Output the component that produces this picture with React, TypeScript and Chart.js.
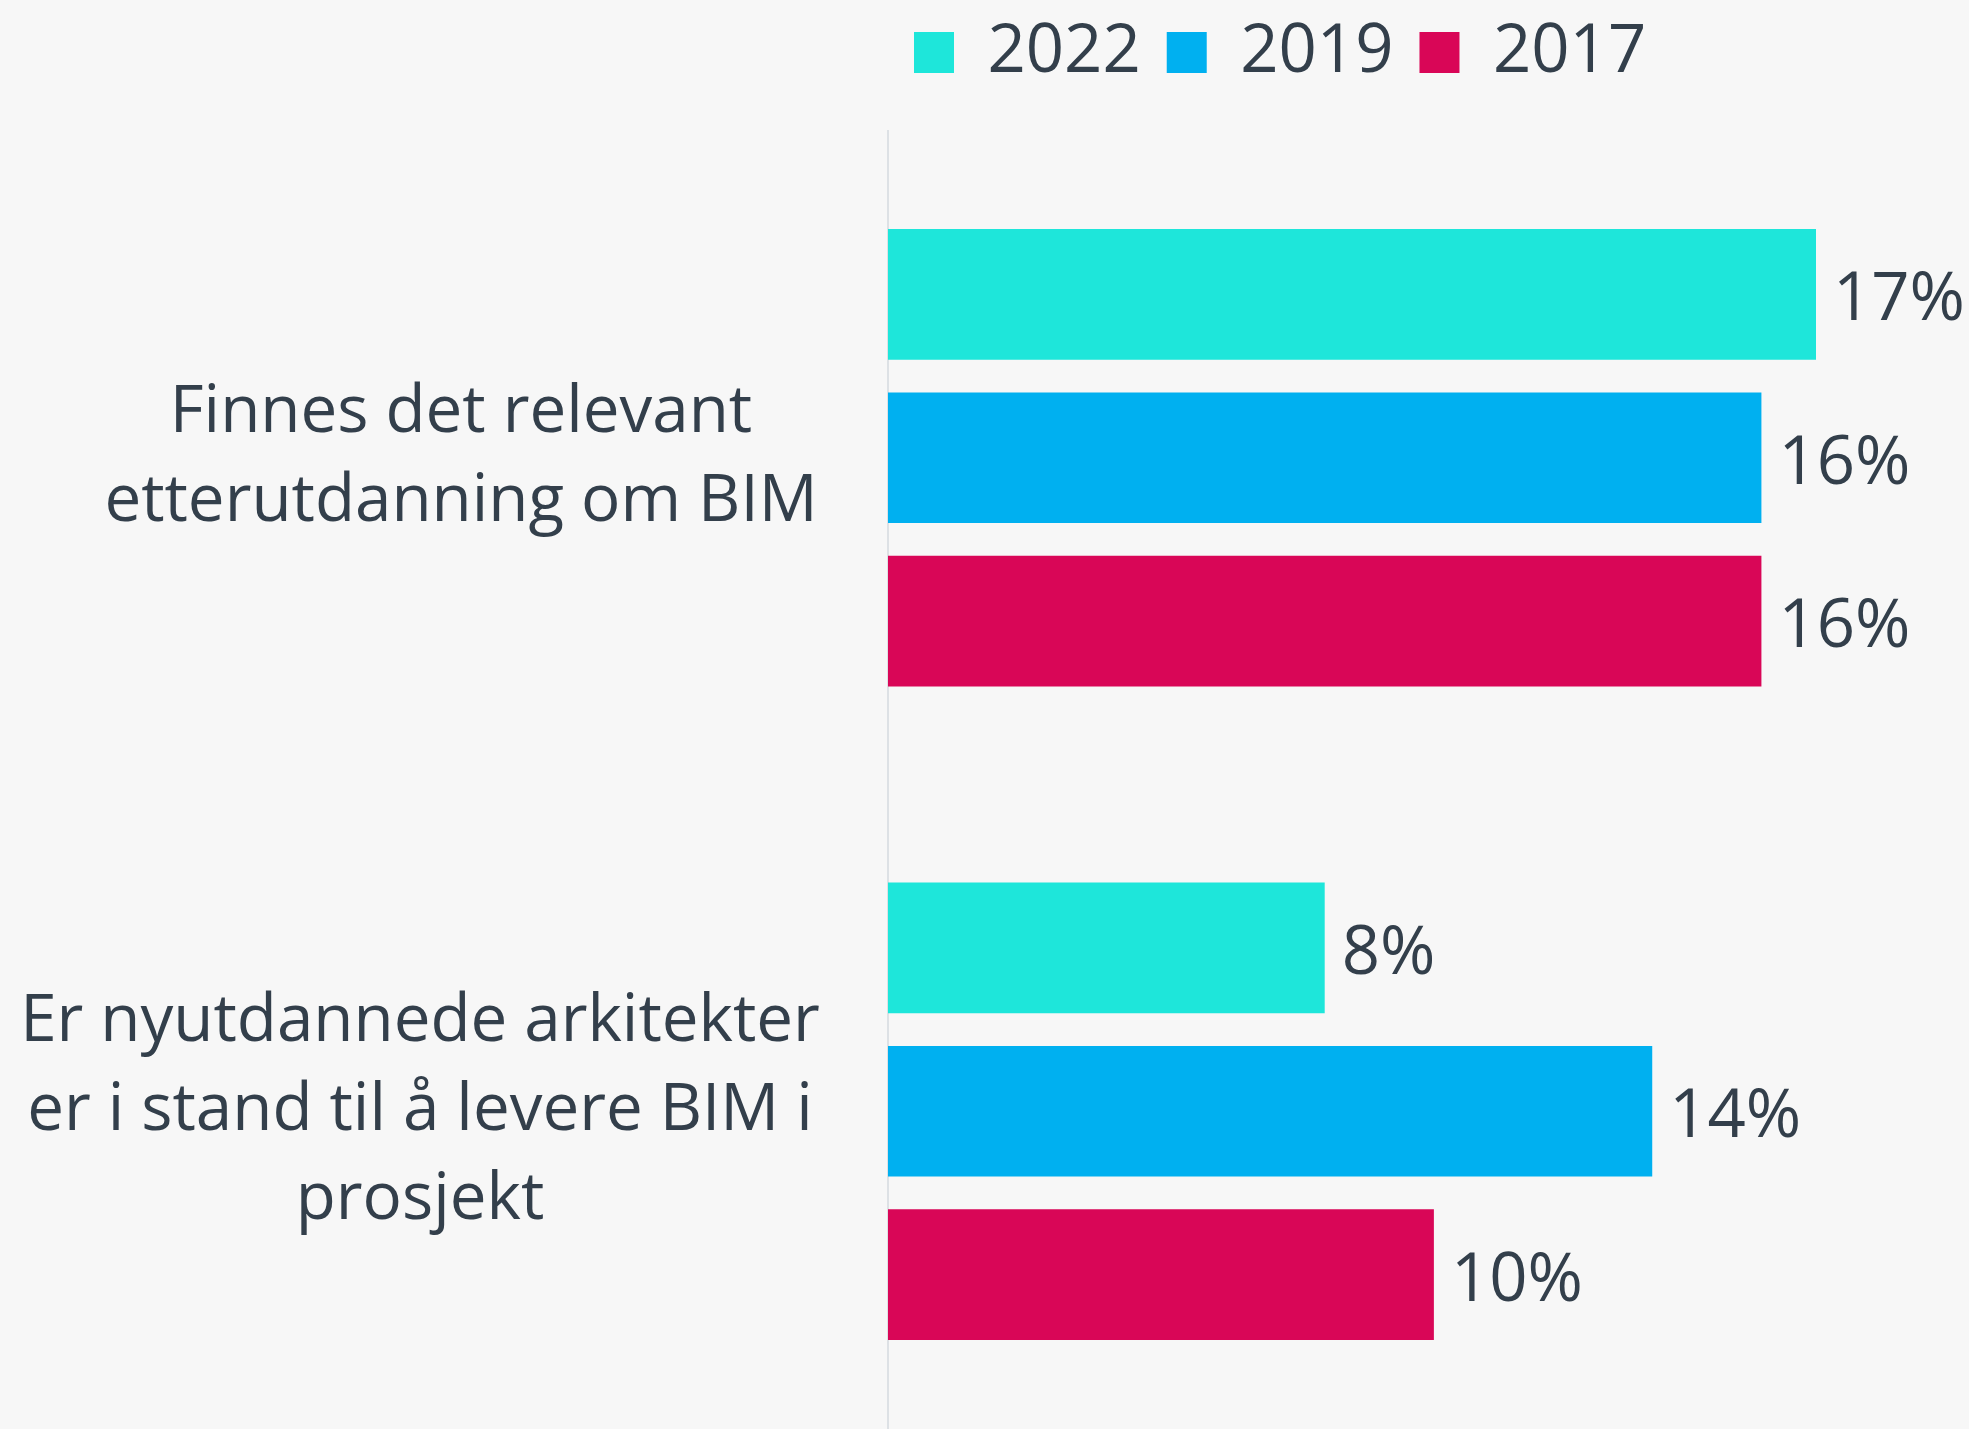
import { useEffect, useRef } from 'react';
import { Chart, registerables } from 'chart.js';

Chart.register(...registerables);

const categories: string[][] = [
  ['Finnes det relevant', 'etterutdanning om BIM'],
  ['Er nyutdannede arkitekter', 'er i stand til å levere BIM i', 'prosjekt'],
];
const seriesLabels = ['2022', '2019', '2017'];
const values2022 = [17, 8];
const values2019 = [16, 14];
const values2017 = [16, 10];
const seriesColors = ['#1EE6DA', '#00B0F0', '#D90657'];

const FONT = "'Open Sans', sans-serif";
const TEXT = '#333F4B';
const SIZE = 67;
const CAT_SIZE = 65.5;
const LINE_H = 89;
const LABEL_CENTERS = [461, 420];
const W = 1969;
const H = 1438;

const legendSpacing = {
  id: 'legendSpacing',
  beforeInit(chart: any) {
    const legend = chart.legend;
    if (!legend) return;
    const orig = legend.fit;
    legend.fit = function () {
      orig.call(this);
      this.height += 35;
    };
  },
};

const labelsPlugin = {
  id: 'customLabels',
  afterDatasetsDraw(chart: any) {
    const ctx = chart.ctx;
    ctx.save();
    ctx.font = `${SIZE}px ${FONT}`;
    ctx.fillStyle = TEXT;
    ctx.textBaseline = 'alphabetic';
    ctx.textAlign = 'left';
    chart.data.datasets.forEach((ds: any, i: number) => {
      const meta = chart.getDatasetMeta(i);
      meta.data.forEach((el: any, j: number) => {
        ctx.fillText(`${ds.data[j]}%`, el.x + 17, el.y + 26);
      });
    });
    const yScale = chart.scales.y;
    ctx.font = `${CAT_SIZE}px ${FONT}`;
    ctx.textBaseline = 'middle';
    ctx.textAlign = 'center';
    categories.forEach((lines, i) => {
      const cy = yScale.getPixelForValue(i);
      const n = lines.length;
      lines.forEach((line, k) => {
        ctx.fillText(line, LABEL_CENTERS[i], cy + (k - (n - 1) / 2) * LINE_H);
      });
    });
    ctx.restore();
  },
};

export default function App() {
  const ref = useRef<HTMLCanvasElement | null>(null);
  useEffect(() => {
    if (!ref.current) return;
    const chart = new Chart(ref.current, {
      type: 'bar',
      data: {
        labels: categories,
        datasets: [
          { label: seriesLabels[0], data: values2022, backgroundColor: seriesColors[0] },
          { label: seriesLabels[1], data: values2019, backgroundColor: seriesColors[1] },
          { label: seriesLabels[2], data: values2017, backgroundColor: seriesColors[2] },
        ],
      },
      options: {
        indexAxis: 'y',
        animation: false,
        responsive: false,
        devicePixelRatio: 1,
        categoryPercentage: 0.75,
        barPercentage: 0.8,
        layout: { padding: { top: -7, right: 153, left: 0, bottom: 0 } },
        plugins: {
          legend: {
            display: true,
            position: 'top',
            align: 'start',
            fullSize: false,
            labels: {
              boxWidth: 40,
              boxHeight: 41,
              padding: 26,
              color: TEXT,
              font: { family: FONT, size: SIZE },
            },
          },
          tooltip: { enabled: false },
        },
        scales: {
          x: { display: false, min: 0, max: 17 },
          y: {
            display: true,
            ticks: { display: false },
            grid: { display: false },
            border: { display: true, color: '#DDE1E5', width: 2 },
            afterFit: (s: any) => {
              s.width = 888;
            },
          },
        },
      } as any,
      plugins: [legendSpacing, labelsPlugin],
    });
    return () => chart.destroy();
  }, []);
  return (
    <div style={{ position: 'fixed', left: 0, top: 0, width: W, height: H, background: '#F7F7F7' }}>
      <canvas ref={ref} width={W} height={H} style={{ display: 'block' }} />
    </div>
  );
}
